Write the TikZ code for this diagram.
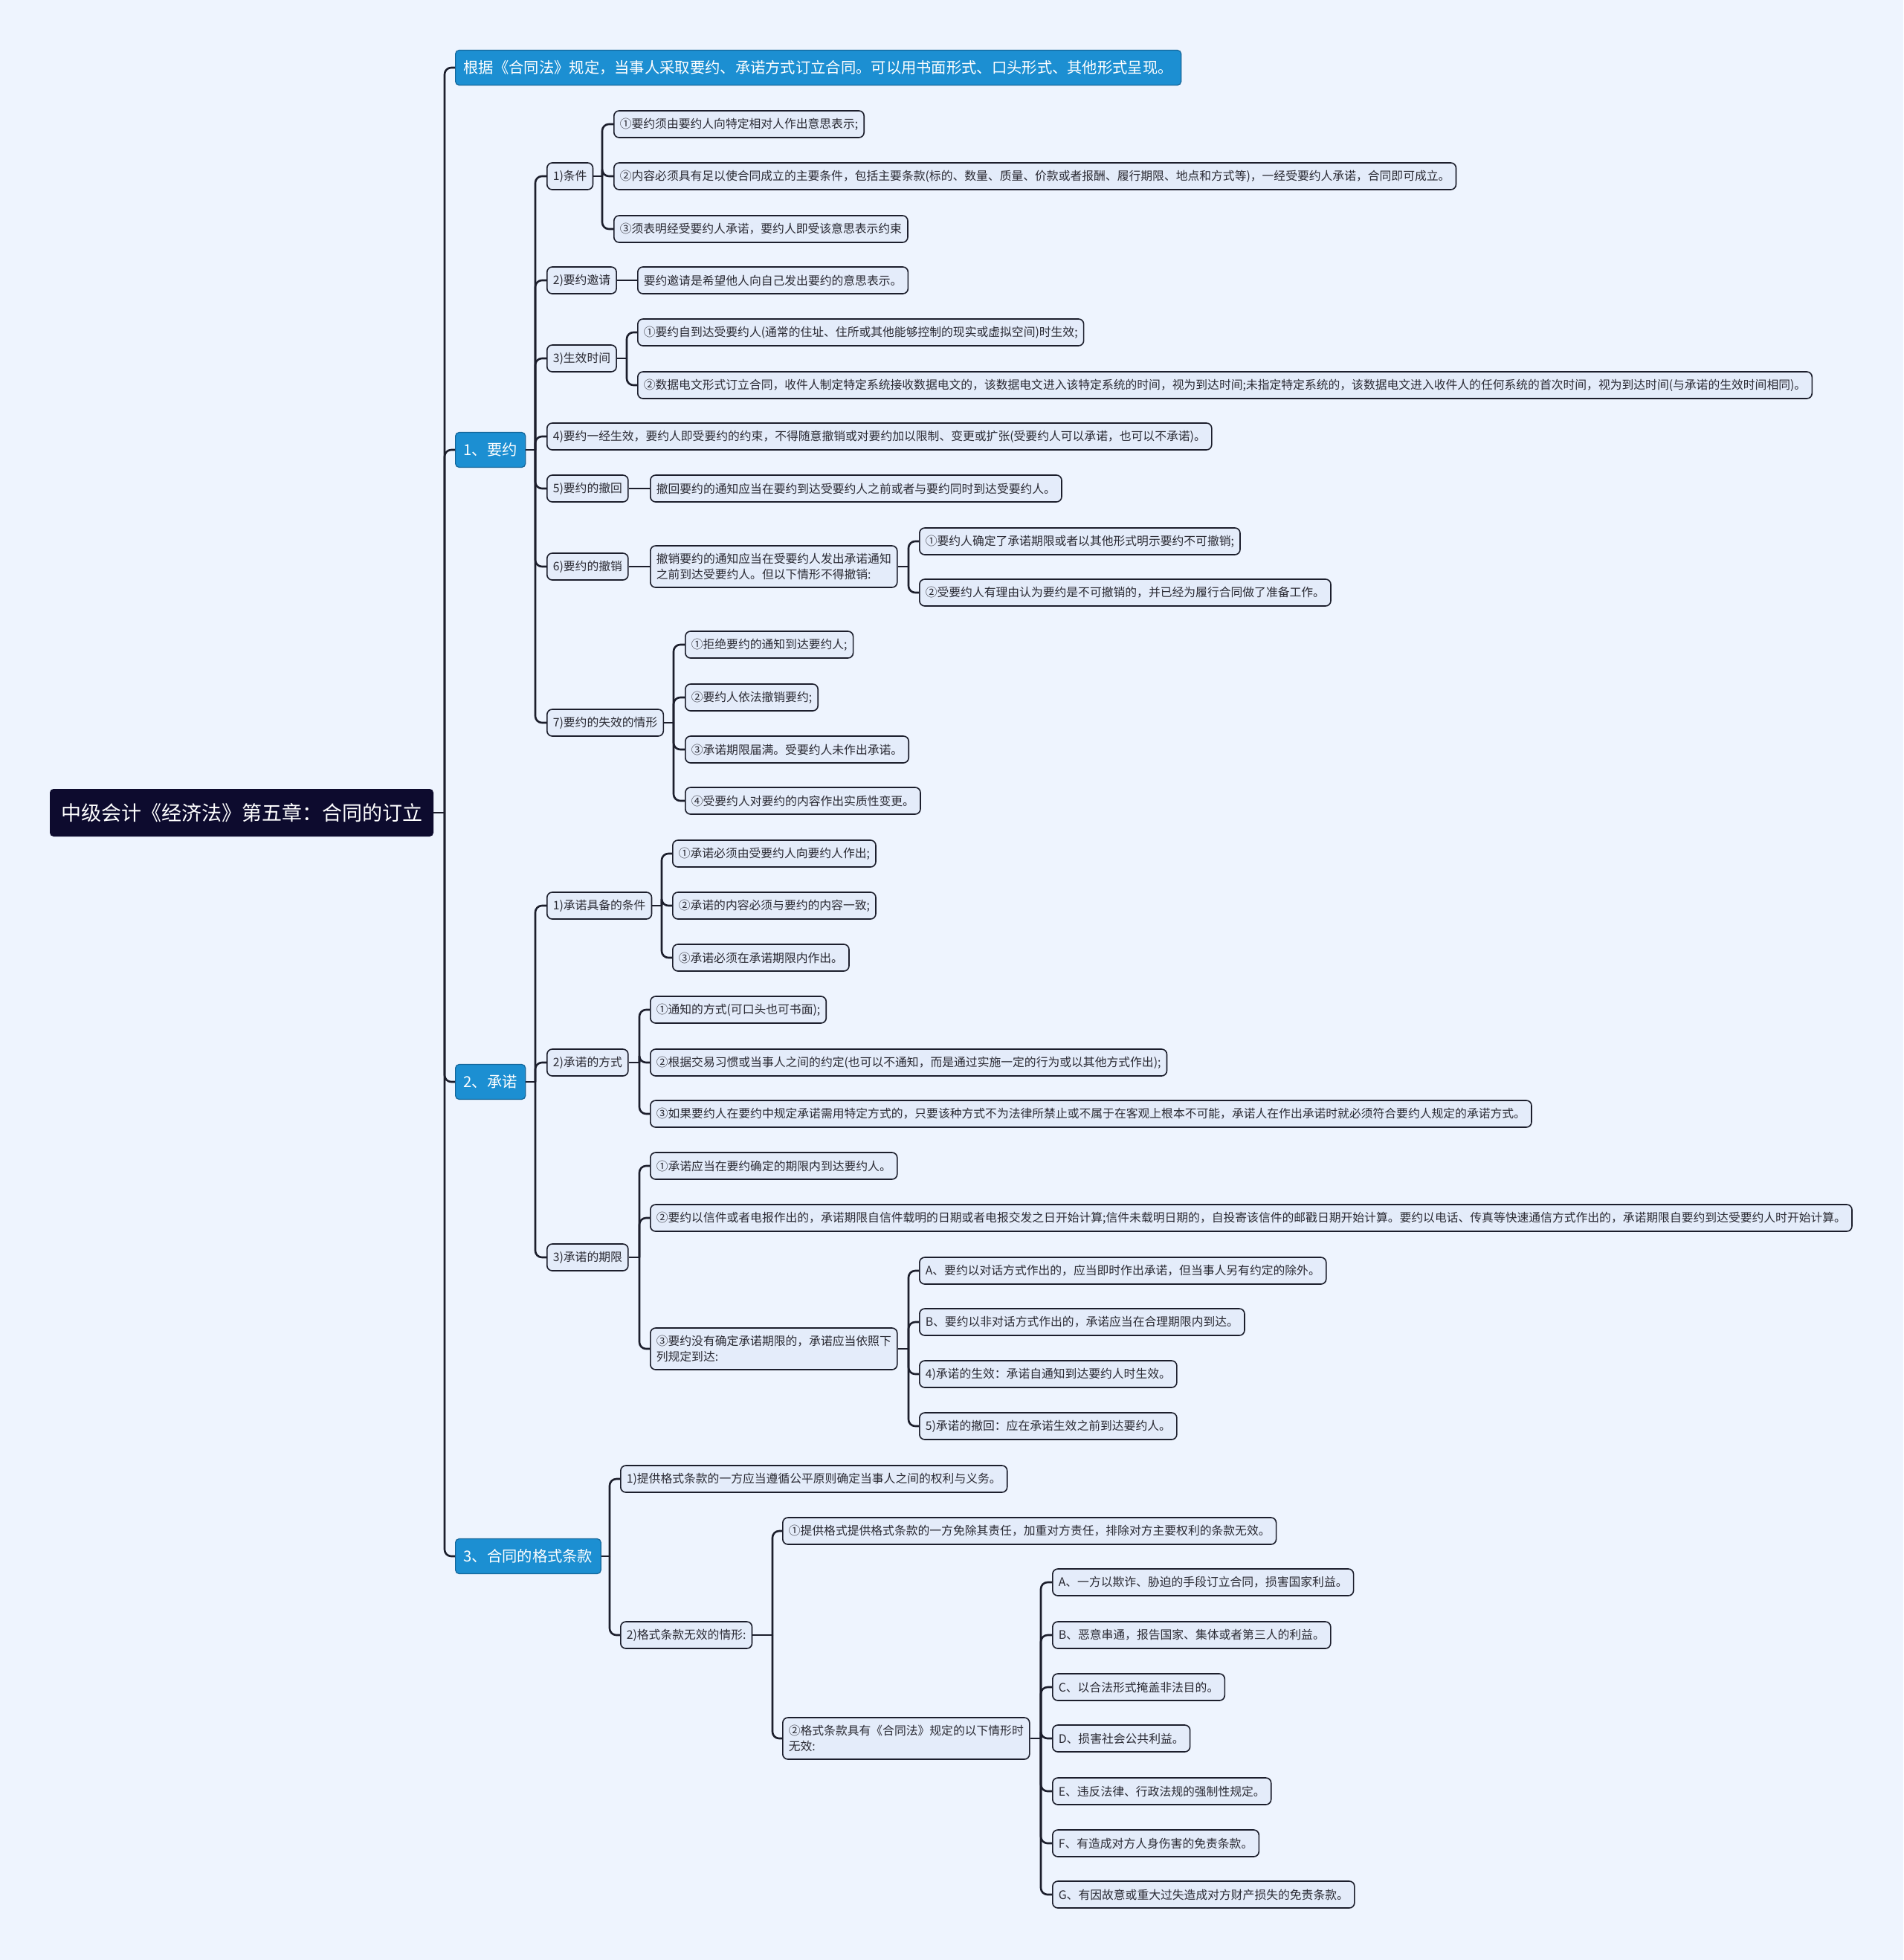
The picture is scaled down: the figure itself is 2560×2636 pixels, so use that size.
\documentclass[tikz,border=0pt]{standalone}
\usepackage{fontspec}
\setmainfont{Noto Sans CJK SC}
\usetikzlibrary{calc}
\definecolor{bgC}{HTML}{EEF4FE}
\definecolor{nodeC}{HTML}{E4ECFA}
\definecolor{lineC}{HTML}{1C1E2C}
\definecolor{textC}{HTML}{2A2A33}
\definecolor{blueC}{HTML}{1C8FD2}
\definecolor{blueD}{HTML}{14669A}
\definecolor{rootC}{HTML}{0D0B2E}
\newcommand\branch[3]{%
  \draw[conn] (#1.east) -- (#1.east -| #2);
  \foreach \cc in {#3}{\draw[conn] (#1.east -| #2) |- (\cc.west);}}
\begin{document}
\begin{tikzpicture}[x=1pt,y=-1pt,
  small/.style={draw=lineC, fill=nodeC, line width=1.6pt, rounded corners=7pt, anchor=west,
    inner xsep=8pt, inner ysep=0pt, minimum height=36pt, font=\fontsize{15.8}{21}\selectfont,
    text=textC, align=left},
  lone/.style={fill=blueC, draw=blueD, line width=1.2pt, rounded corners=5pt, anchor=west,
    minimum height=47pt, inner xsep=11pt, inner ysep=0pt, font=\fontsize{20.3}{24}\selectfont, text=white},
  rootbox/.style={fill=rootC, rounded corners=5pt, minimum width=516pt, minimum height=64pt,
    inner sep=0pt, font=\fontsize{27}{32}\selectfont, text=white},
  conn/.style={draw=lineC, line width=2.6pt, rounded corners=9pt}]
\fill[bgC] (0,0) rectangle (2560,2636);
\useasboundingbox (0,0) rectangle (2560,2636);

% vertical line positions
\coordinate (v0) at (598,0);
\coordinate (vA) at (720,0);
\coordinate (vC) at (820,0);
\coordinate (v11) at (810,0);
\coordinate (v13) at (843,0);
\coordinate (v161) at (1222,0);
\coordinate (v17) at (906,0);
\coordinate (v21) at (890,0);
\coordinate (v22) at (860,0);
\coordinate (v233) at (1222,0);
\coordinate (v32) at (1039,0);
\coordinate (v322) at (1400,0);

% root
\node[rootbox] (root) at (325,1093) {中级会计《经济法》第五章：合同的订立};

% level 1
\node[lone] (t0) at (612,91) {根据《合同法》规定，当事人采取要约、承诺方式订立合同。可以用书面形式、口头形式、其他形式呈现。};
\node[lone] (nA) at (612,605) {1、要约};
\node[lone] (nB) at (612,1455) {2、承诺};
\node[lone] (nC) at (612,2093) {3、合同的格式条款};

% 要约
\node[small] (n11) at (735,237) {1)条件};
\node[small] (n111) at (825,167) {①要约须由要约人向特定相对人作出意思表示;};
\node[small] (n112) at (825,237) {②内容必须具有足以使合同成立的主要条件，包括主要条款(标的、数量、质量、价款或者报酬、履行期限、地点和方式等)，一经受要约人承诺，合同即可成立。};
\node[small] (n113) at (825,308) {③须表明经受要约人承诺，要约人即受该意思表示约束};
\node[small] (n12) at (735,377) {2)要约邀请};
\node[small] (n121) at (857,377) {要约邀请是希望他人向自己发出要约的意思表示。};
\node[small] (n13) at (735,482) {3)生效时间};
\node[small] (n131) at (857,447) {①要约自到达受要约人(通常的住址、住所或其他能够控制的现实或虚拟空间)时生效;};
\node[small] (n132) at (857,518) {②数据电文形式订立合同，收件人制定特定系统接收数据电文的，该数据电文进入该特定系统的时间，视为到达时间;未指定特定系统的，该数据电文进入收件人的任何系统的首次时间，视为到达时间(与承诺的生效时间相同)。};
\node[small] (n14) at (735,587) {4)要约一经生效，要约人即受要约的约束，不得随意撤销或对要约加以限制、变更或扩张(受要约人可以承诺，也可以不承诺)。};
\node[small] (n15) at (735,657) {5)要约的撤回};
\node[small] (n151) at (874,657) {撤回要约的通知应当在要约到达受要约人之前或者与要约同时到达受要约人。};
\node[small] (n16) at (735,762) {6)要约的撤销};
\node[small, minimum height=56pt] (n161) at (874,762) {撤销要约的通知应当在受要约人发出承诺通知\\之前到达受要约人。但以下情形不得撤销:};
\node[small] (n1611) at (1236,728) {①要约人确定了承诺期限或者以其他形式明示要约不可撤销;};
\node[small] (n1612) at (1236,797) {②受要约人有理由认为要约是不可撤销的，并已经为履行合同做了准备工作。};
\node[small] (n17) at (735,972) {7)要约的失效的情形};
\node[small] (n171) at (921,867) {①拒绝要约的通知到达要约人;};
\node[small] (n172) at (921,938) {②要约人依法撤销要约;};
\node[small] (n173) at (921,1008) {③承诺期限届满。受要约人未作出承诺。};
\node[small] (n174) at (921,1077) {④受要约人对要约的内容作出实质性变更。};

% 承诺
\node[small] (n21) at (735,1218) {1)承诺具备的条件};
\node[small] (n211) at (904,1148) {①承诺必须由受要约人向要约人作出;};
\node[small] (n212) at (904,1218) {②承诺的内容必须与要约的内容一致;};
\node[small] (n213) at (904,1288) {③承诺必须在承诺期限内作出。};
\node[small] (n22) at (735,1429) {2)承诺的方式};
\node[small] (n221) at (874,1358) {①通知的方式(可口头也可书面);};
\node[small] (n222) at (874,1429) {②根据交易习惯或当事人之间的约定(也可以不通知，而是通过实施一定的行为或以其他方式作出);};
\node[small] (n223) at (874,1498) {③如果要约人在要约中规定承诺需用特定方式的，只要该种方式不为法律所禁止或不属于在客观上根本不可能，承诺人在作出承诺时就必须符合要约人规定的承诺方式。};
\node[small] (n23) at (735,1691) {3)承诺的期限};
\node[small] (n231) at (874,1568) {①承诺应当在要约确定的期限内到达要约人。};
\node[small] (n232) at (874,1638) {②要约以信件或者电报作出的，承诺期限自信件载明的日期或者电报交发之日开始计算;信件未载明日期的，自投寄该信件的邮戳日期开始计算。要约以电话、传真等快速通信方式作出的，承诺期限自要约到达受要约人时开始计算。};
\node[small, minimum height=56pt] (n233) at (874,1814) {③要约没有确定承诺期限的，承诺应当依照下\\列规定到达:};
\node[small] (n2331) at (1236,1709) {A、要约以对话方式作出的，应当即时作出承诺，但当事人另有约定的除外。};
\node[small] (n2332) at (1236,1778) {B、要约以非对话方式作出的，承诺应当在合理期限内到达。};
\node[small] (n2333) at (1236,1848) {4)承诺的生效：承诺自通知到达要约人时生效。};
\node[small] (n2334) at (1236,1918) {5)承诺的撤回：应在承诺生效之前到达要约人。};

% 格式条款
\node[small] (n31) at (834,1989) {1)提供格式条款的一方应当遵循公平原则确定当事人之间的权利与义务。};
\node[small] (n32) at (834,2199) {2)格式条款无效的情形:};
\node[small] (n321) at (1052,2059) {①提供格式提供格式条款的一方免除其责任，加重对方责任，排除对方主要权利的条款无效。};
\node[small, minimum height=56pt] (n322) at (1052,2338) {②格式条款具有《合同法》规定的以下情形时\\无效:};
\node[small] (n32A) at (1415,2128) {A、一方以欺诈、胁迫的手段订立合同，损害国家利益。};
\node[small] (n32B) at (1415,2199) {B、恶意串通，报告国家、集体或者第三人的利益。};
\node[small] (n32C) at (1415,2269) {C、以合法形式掩盖非法目的。};
\node[small] (n32D) at (1415,2338) {D、损害社会公共利益。};
\node[small] (n32E) at (1415,2409) {E、违反法律、行政法规的强制性规定。};
\node[small] (n32F) at (1415,2479) {F、有造成对方人身伤害的免责条款。};
\node[small] (n32G) at (1415,2548) {G、有因故意或重大过失造成对方财产损失的免责条款。};

% connectors
\branch{root}{v0}{t0,nA,nB,nC}
\branch{nA}{vA}{n11,n12,n13,n14,n15,n16,n17}
\branch{n11}{v11}{n111,n112,n113}
\draw[conn] (n12.east) -- (n121.west);
\branch{n13}{v13}{n131,n132}
\draw[conn] (n15.east) -- (n151.west);
\draw[conn] (n16.east) -- (n161.west);
\branch{n161}{v161}{n1611,n1612}
\branch{n17}{v17}{n171,n172,n173,n174}
\branch{nB}{vA}{n21,n22,n23}
\branch{n21}{v21}{n211,n212,n213}
\branch{n22}{v22}{n221,n222,n223}
\branch{n23}{v22}{n231,n232,n233}
\branch{n233}{v233}{n2331,n2332,n2333,n2334}
\branch{nC}{vC}{n31,n32}
\branch{n32}{v32}{n321,n322}
\branch{n322}{v322}{n32A,n32B,n32C,n32D,n32E,n32F,n32G}
\end{tikzpicture}
\end{document}
